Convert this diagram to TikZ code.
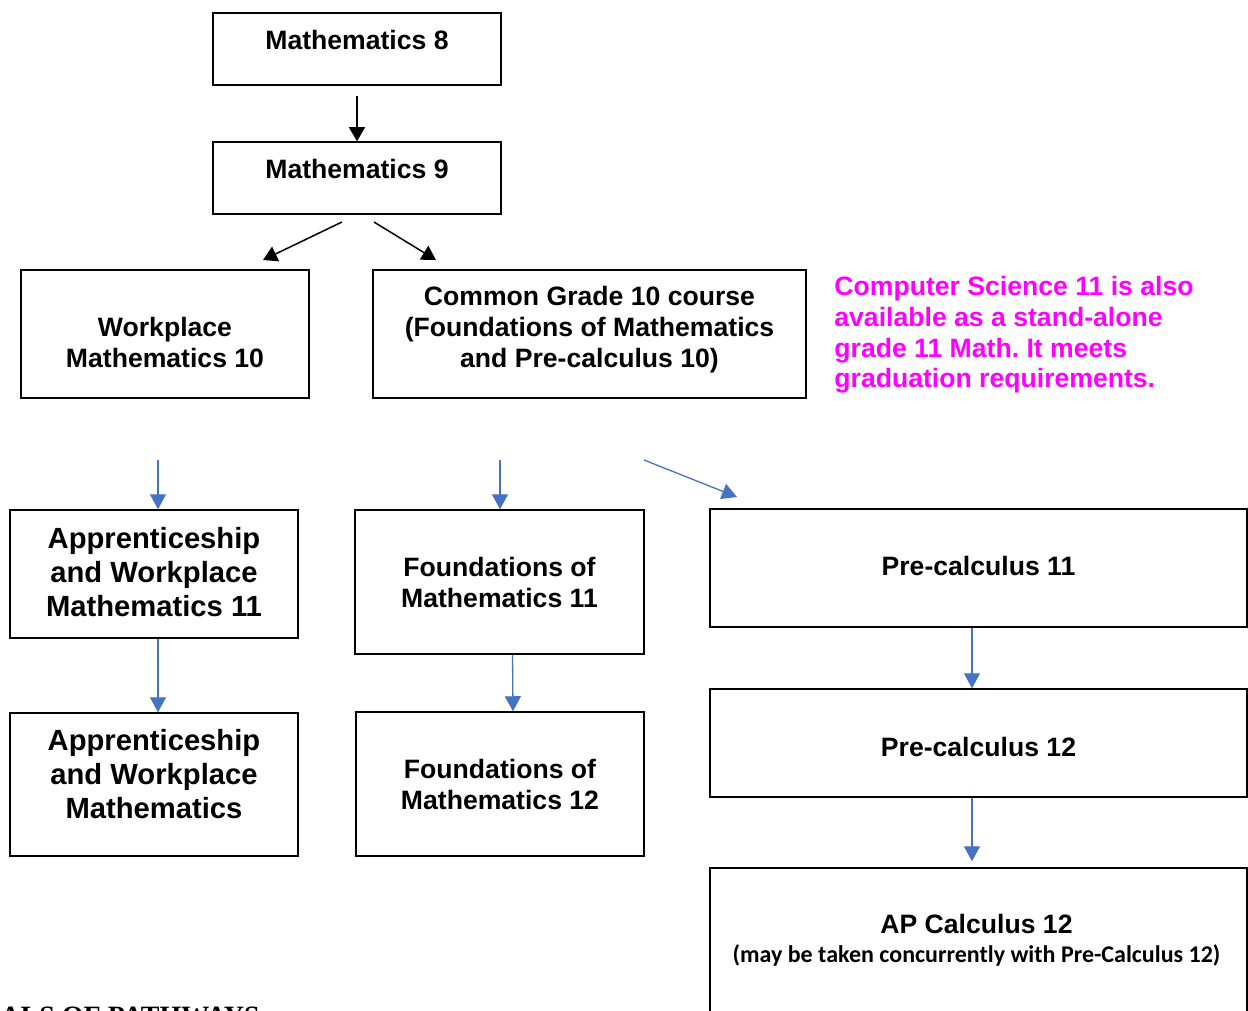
\documentclass[tikz,border=0pt]{standalone}
\usepackage{fontspec}
\setmainfont{Liberation Sans}
\newfontfamily\calibrifont{Carlito}
\newfontfamily\timesfont{Liberation Serif}
\usetikzlibrary{arrows.meta,calc}

\definecolor{arrowblue}{HTML}{4472C4}
\definecolor{notemagenta}{HTML}{FF00FF}

\tikzset{
  box/.style={rectangle, draw, line width=0.75pt},
  boxtext/.style={font=\fontsize{13.3}{15.5}\selectfont\bfseries, align=center, inner sep=0pt},
  bigtext/.style={font=\fontsize{14.6}{17}\selectfont\bfseries, align=center, inner sep=0pt},
  line/.style={draw, line width=0.75pt, -{Triangle[length=7pt,width=8pt]}},
  blueline/.style={draw, color=arrowblue, line width=0.65pt, -{Triangle[length=7.5pt,width=8pt]}}
}

\begin{document}
\begin{tikzpicture}[x=0.5pt, y=-0.5pt]
  \useasboundingbox (0,0) rectangle (1248,1011);

  %Nodes
  \node [box, minimum width=144pt, minimum height=36pt,
    label={[boxtext, yshift=4.5pt]center:Mathematics 8}] (m8) at (357,49) {};
  \node [box, minimum width=144pt, minimum height=36pt,
    label={[boxtext, yshift=4.5pt]center:Mathematics 9}] (m9) at (357,178) {};

  \node [box, minimum width=144pt, minimum height=64pt,
    label={[boxtext, yshift=-4.25pt]center:Workplace\\Mathematics 10}] (work10) at (165,334) {};
  \node [box, minimum width=216.5pt, minimum height=64pt,
    label={[boxtext, yshift=2pt]center:Common Grade 10 course\\(Foundations of Mathematics\\and Pre-calculus 10)}] (common10) at (589.5,334) {};

  \node [font=\fontsize{13.3}{15.35}\selectfont\bfseries, text=notemagenta, align=left,
    anchor=north west, inner sep=0pt] (csnote) at (834,276)
    {Computer Science 11 is also\\available as a stand-alone\\grade 11 Math.\ It meets\\graduation requirements.};

  \node [box, minimum width=144pt, minimum height=64pt,
    label={[bigtext, yshift=1pt]center:Apprenticeship\\and Workplace\\Mathematics 11}] (aw11) at (154,574) {};
  \node [box, minimum width=144.5pt, minimum height=72pt,
    label={[boxtext]center:Foundations of\\Mathematics 11}] (fnd11) at (499.5,582) {};
  \node [box, minimum width=268.5pt, minimum height=59pt,
    label={[boxtext, yshift=1pt]center:Pre-calculus 11}] (pc11) at (978.5,568) {};

  \node [box, minimum width=144pt, minimum height=71.5pt,
    label={[bigtext, yshift=5pt]center:Apprenticeship\\and Workplace\\Mathematics}] (aw12) at (154,784.5) {};
  \node [box, minimum width=144pt, minimum height=72pt,
    label={[boxtext]center:Foundations of\\Mathematics 12}] (fnd12) at (500,784) {};
  \node [box, minimum width=268.5pt, minimum height=54pt,
    label={[boxtext, yshift=-2pt]center:Pre-calculus 12}] (pc12) at (978.5,743) {};

  \node [box, minimum width=268.5pt, minimum height=86pt,
    label={[boxtext, yshift=7pt, xshift=-1pt]center:AP Calculus 12\\[-1pt]{\calibrifont\fontsize{12}{13}\selectfont(may be taken concurrently with Pre-Calculus 12)}}] (ap12) at (978.5,954) {};

  \node [font=\timesfont\bfseries\fontsize{14}{16}\selectfont, anchor=base west, inner sep=0pt] (pathways) at (0,1025) {ALS OF PATHWAYS};

  %Lines
  \coordinate (m8out) at ($(m8.south)+(0,10)$);
  \coordinate (m9left) at (342,222);
  \coordinate (m9right) at (374,222);
  \coordinate (workin) at (263,260);
  \coordinate (commonin) at (436,260);
  \path [line] (m8out) -- (m9.north);
  \path [line] (m9left) -- (workin);
  \path [line] (m9right) -- (commonin);

  \coordinate (workout) at (158,460);
  \coordinate (commonout) at (500,460);
  \coordinate (commonpc) at (644,460);
  \coordinate (pcin) at (737,497);
  \path [blueline] (workout) -- (workout |- aw11.north);
  \path [blueline] (commonout) -- (commonout |- fnd11.north);
  \path [blueline] (commonpc) -- (pcin);
  \path [blueline] ([xshift=2pt]aw11.south) -- ([xshift=2pt]aw12.north);
  \path [blueline] ([xshift=6.5pt]fnd11.south) -- ([xshift=6.5pt]fnd12.north);
  \path [blueline] ([xshift=-3.25pt]pc11.south) -- ([xshift=-3.25pt]pc12.north);
  \path [blueline, shorten >=3pt] ([xshift=-3.25pt]pc12.south) -- ([xshift=-3.25pt]ap12.north);
\end{tikzpicture}
\end{document}
